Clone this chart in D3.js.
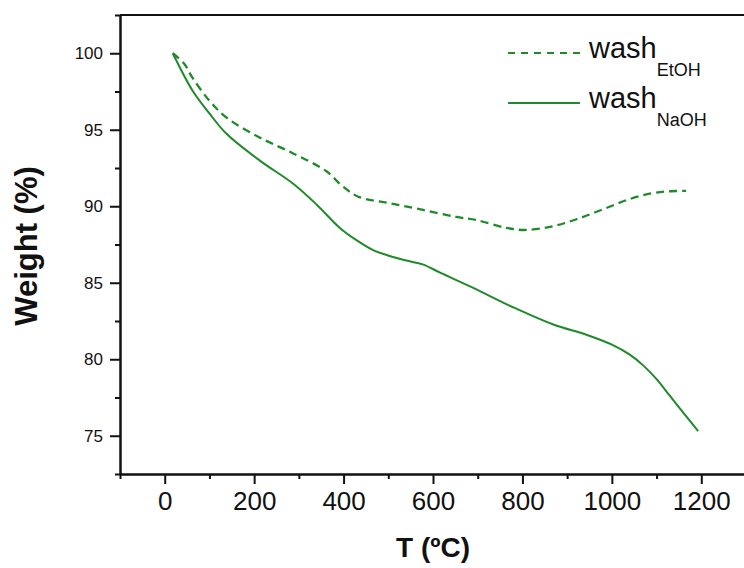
<!DOCTYPE html>
<html>
<head>
<meta charset="utf-8">
<script src="https://cdn.jsdelivr.net/npm/d3@7"></script>
<style>
  html, body { margin: 0; padding: 0; background: #fff; }
  svg { display: block; font-family: "Liberation Sans", Arial, sans-serif; }
</style>
</head>
<body>
<svg id="chart" width="744" height="568"></svg>
<script>
// ---- data ----
const ethTemp   = [18, 44, 62, 100, 138, 212, 286, 361, 398, 435, 503, 578, 652, 697, 764, 809, 869, 921, 980, 1040, 1092, 1130, 1166];
const ethWeight = [100, 99.3, 98.4, 96.9, 95.8, 94.5, 93.47, 92.3, 91.3, 90.6, 90.2, 89.76, 89.3, 89.1, 88.58, 88.45, 88.7, 89.15, 89.8, 90.47, 90.86, 90.98, 91.0];

const naTemp   = [18, 62, 100, 137, 212, 286, 340, 391, 428, 465, 503, 540, 577, 616, 689, 779, 869, 943, 1000, 1040, 1070, 1100, 1130, 1160, 1193];
const naWeight = [100, 97.57, 96.07, 94.77, 93.0, 91.5, 90.1, 88.6, 87.8, 87.15, 86.75, 86.45, 86.2, 85.66, 84.68, 83.4, 82.27, 81.6, 80.95, 80.3, 79.6, 78.7, 77.6, 76.5, 75.3];

const xTicks = [0, 200, 400, 600, 800, 1000, 1200];
const yTicks = [75, 80, 85, 90, 95, 100];
const xTitle = "T (ºC)";
const yTitle = "Weight (%)";
const legendNames = [["wash", "EtOH"], ["wash", "NaOH"]];

// ---- layout ----
const svg = d3.select("#chart");
const mLeft = 120, mTop = 15, mRight = 746, mBottom = 474;
const color = "#1f8a2a";

const x = d3.scaleLinear().domain([-100, 1300]).range([mLeft, mRight]);
const y = d3.scaleLinear().domain([72.5, 102.5]).range([mBottom, mTop]);

// frame (top border)
svg.append("line").attr("x1", mLeft).attr("x2", mRight).attr("y1", mTop).attr("y2", mTop)
  .attr("stroke", "#111").attr("stroke-width", 2);

// minor ticks
const xMinor = d3.range(-100, 1301, 100).filter(v => !xTicks.includes(v));
const yMinor = d3.range(72.5, 102.6, 2.5).filter(v => !yTicks.includes(v));

const xAxis = svg.append("g").attr("transform", `translate(0,${mBottom})`)
  .call(d3.axisBottom(x).tickValues(xTicks).tickFormat(d3.format("d")).tickSize(10).tickPadding(8).tickSizeOuter(0));
xAxis.selectAll("text").attr("font-size", 26).attr("fill", "#111").attr("font-family", "Liberation Sans, Arial, sans-serif");
svg.append("g").attr("transform", `translate(0,${mBottom})`)
  .call(d3.axisBottom(x).tickValues(xMinor).tickSize(5).tickFormat("").tickSizeOuter(0));

const yAxis = svg.append("g").attr("transform", `translate(${mLeft},0)`)
  .call(d3.axisLeft(y).tickValues(yTicks).tickFormat(d3.format("d")).tickSize(10).tickPadding(7).tickSizeOuter(0));
yAxis.selectAll("text").attr("font-size", 17).attr("fill", "#111").attr("font-family", "Liberation Sans, Arial, sans-serif");
svg.append("g").attr("transform", `translate(${mLeft},0)`)
  .call(d3.axisLeft(y).tickValues(yMinor).tickSize(5).tickFormat("").tickSizeOuter(0));

svg.selectAll(".domain").attr("stroke", "#111").attr("stroke-width", 2);
svg.selectAll(".tick line").attr("stroke", "#111").attr("stroke-width", 2);

// axis titles
svg.append("text").attr("x", (mLeft + mRight) / 2).attr("y", 557)
  .attr("text-anchor", "middle").attr("font-size", 28).attr("font-weight", "bold")
  .attr("fill", "#111").text(xTitle);
svg.append("text").attr("transform", `translate(37,246) rotate(-90)`)
  .attr("text-anchor", "middle").attr("font-size", 31).attr("font-weight", "bold")
  .attr("fill", "#111").text(yTitle);

// curves
const line = d3.line().curve(d3.curveCatmullRom.alpha(0.5));
const ethPts = ethTemp.map((t, i) => [x(t), y(ethWeight[i])]);
const naPts = naTemp.map((t, i) => [x(t), y(naWeight[i])]);

svg.append("path").attr("d", line(ethPts)).attr("fill", "none")
  .attr("stroke", color).attr("stroke-width", 2.3).attr("stroke-dasharray", "8,5");
svg.append("path").attr("d", line(naPts)).attr("fill", "none")
  .attr("stroke", color).attr("stroke-width", 2);

// legend
const legY = [53, 103];
const dashes = ["7,6", null];
legendNames.forEach((nm, i) => {
  const g = svg.append("g");
  const l = g.append("line").attr("x1", 508).attr("x2", 580).attr("y1", legY[i]).attr("y2", legY[i])
    .attr("stroke", color).attr("stroke-width", 2);
  if (dashes[i]) l.attr("stroke-dasharray", dashes[i]);
  const t = g.append("text").attr("x", 589).attr("y", legY[i] + 5)
    .attr("font-size", 29).attr("fill", "#111");
  t.append("tspan").text(nm[0]);
  t.append("tspan").attr("font-size", 18).attr("dy", 18).text(nm[1]);
});
</script>
</body>
</html>
